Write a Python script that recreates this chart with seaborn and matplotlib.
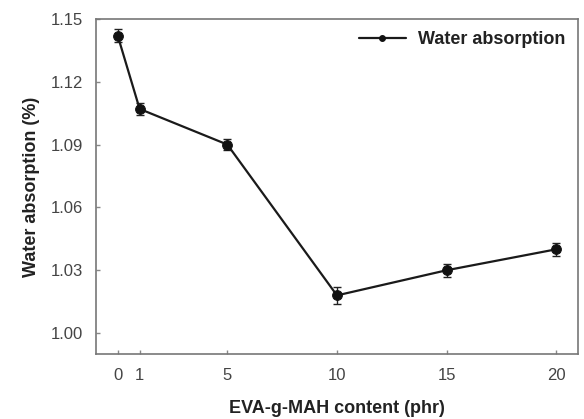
import matplotlib
matplotlib.use("Agg")
import matplotlib.pyplot as plt
import seaborn as sns
import pandas as pd

content = [0, 1, 5, 10, 15, 20]
absorption = [1.142, 1.107, 1.090, 1.018, 1.030, 1.040]
err = [0.003, 0.003, 0.0025, 0.004, 0.003, 0.003]
xticks = [0, 1, 5, 10, 15, 20]
yticks = [1.00, 1.03, 1.06, 1.09, 1.12, 1.15]

sns.set_theme(style="white")
plt.rcParams['font.family'] = ['Liberation Sans', 'DejaVu Sans']

df = pd.DataFrame({"x": content, "y": absorption})
fig = plt.figure(figsize=(5.84, 4.19), dpi=100)
ax = fig.add_axes([0.164, 0.155, 0.826, 0.80])

ax.errorbar(content, absorption, yerr=err, fmt='none', ecolor='#222222',
            elinewidth=1.0, capsize=3, capthick=1.0, zorder=2)
sns.lineplot(data=df, x="x", y="y", ax=ax, color='#1a1a1a', linewidth=1.6,
             marker='o', markersize=7, markeredgecolor='#111111',
             markerfacecolor='#111111', label='Water absorption', zorder=3)

ax.set_xlim(-1, 21)
ax.set_ylim(0.99, 1.15)
ax.set_xticks(xticks)
ax.set_yticks(yticks)
ax.set_yticklabels([f"{v:.2f}" for v in yticks])
ax.tick_params(direction='in', length=3, width=1, colors='#888888',
               labelcolor='#444444', labelsize=12, top=False, right=False,
               bottom=True, left=True)
ax.tick_params(axis='x', pad=10)
ax.tick_params(axis='y', pad=9)
for s in ax.spines.values():
    s.set_color('#777777')
    s.set_linewidth(1.2)

ax.set_xlabel('EVA-g-MAH content (phr)', fontsize=13, fontweight='bold',
              color='#222222', labelpad=12)
ax.set_ylabel('Water absorption (%)', fontsize=13, fontweight='bold',
              color='#222222', labelpad=8)

leg = ax.legend(loc='upper right', frameon=False, fontsize=13,
                handlelength=2.6, handletextpad=0.7, borderaxespad=0.5,
                borderpad=0.2, markerscale=0.6)
for t in leg.get_texts():
    t.set_fontweight('bold')
    t.set_color('#222222')

fig.savefig('out.png', dpi=100)
